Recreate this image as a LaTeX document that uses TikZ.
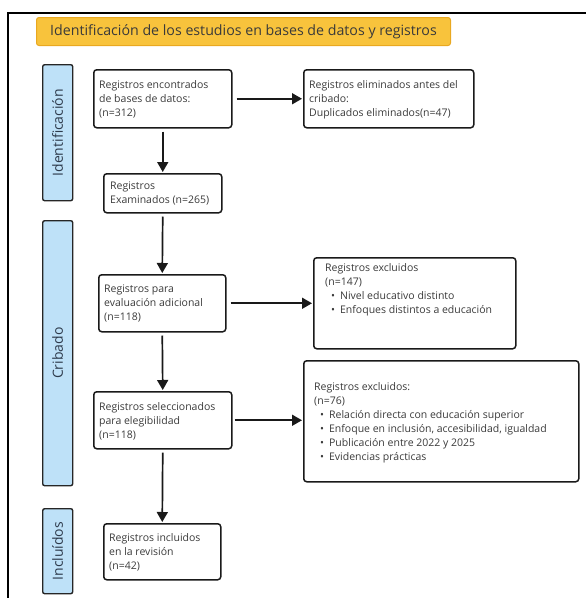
\documentclass[tikz,border=0pt]{standalone}
\usepackage{fontspec}
\setmainfont{Open Sans}
\usetikzlibrary{arrows.meta,calc}
\definecolor{titlefill}{HTML}{F8C33C}
\definecolor{titledraw}{HTML}{E9A820}
\definecolor{barfill}{HTML}{BEE1F8}
\definecolor{bartext}{HTML}{2E3B4C}
\definecolor{txt}{HTML}{3A3A3A}
\tikzset{
  box/.style={draw=black!90, line width=1.5pt, rounded corners=3pt, anchor=north west, inner sep=0pt},
  bar/.style={draw=black!85, line width=1.4pt, fill=barfill, rounded corners=2pt, anchor=north west, inner sep=0pt, minimum width=30pt},
  barlabel/.style={rotate=90, text=bartext, font=\fontsize{14}{16}\selectfont, inner sep=0pt},
  txtnode/.style={anchor=north west, align=left, inner sep=0pt, text=txt, font=\fontsize{10.5}{14}\selectfont},
  arr/.style={line width=1.7pt, -{Triangle[length=10pt,width=11pt]}, black!90},
}
\newcommand{\bul}{\hspace*{6pt}•\hspace{5pt}}
\begin{document}
\begin{tikzpicture}[x=1pt,y=-1pt]
\useasboundingbox (0,0) rectangle (586,598);
% outer frame
\draw[line width=1.5pt] (8,598) -- (8,13) -- (586,13);
% title
\node[draw=titledraw, line width=1pt, fill=titlefill, rounded corners=2.5pt, anchor=north west, minimum width=414pt, minimum height=28pt, inner sep=0pt] (title) at (36,17) {};
\node[text=txt, font=\fontsize{14.2}{16}\selectfont, inner sep=0pt] (titletext) at (title.center) {Identificación de los estudios en bases de datos y registros};
% side bars
\node[bar, minimum height=136pt] (barI) at (42,64) {};
\node[barlabel] (barIt) at (barI.center) {Identificación};
\node[bar, minimum height=265pt] (barC) at (42,220) {};
\node[barlabel] (barCt) at (barC.center) {Cribado};
\node[bar, minimum height=85pt] (barN) at (42,508) {};
\node[barlabel] (barNt) at (barN.center) {Incluídos};
% boxes
\node[box, minimum width=138pt, minimum height=58pt] (b1) at (93,69) {};
\node[txtnode] (t1) at (99,80) {Registros encontrados\\de bases de datos:\\(n=312)};
\node[box, minimum width=170pt, minimum height=58pt] (b2) at (303,69) {};
\node[txtnode] (t2) at (309,80) {Registros eliminados antes del\\cribado:\\Duplicados eliminados(n=47)};
\node[box, minimum width=118pt, minimum height=39pt] (b3) at (103,173) {};
\node[txtnode] (t3) at (110,182) {Registros\\Examinados (n=265)};
\node[box, minimum width=127pt, minimum height=57pt] (b4) at (98,274) {};
\node[txtnode] (t4) at (104,285) {Registros para\\evaluación adicional\\(n=118)};
\node[box, minimum width=202pt, minimum height=91pt] (b5) at (313,257) {};
\node[txtnode] (t5) at (325,263) {Registros excluidos\\(n=147)\\\bul Nivel educativo distinto\\\bul Enfoques distintos a educación};
\node[box, minimum width=138pt, minimum height=57pt] (b6) at (93,391) {};
\node[txtnode] (t6) at (99,402) {Registros seleccionados\\para elegibilidad\\(n=118)};
\node[box, minimum width=275pt, minimum height=121pt] (b7) at (303,360) {};
\node[txtnode] (t7) at (314,382) {Registros excluidos:\\(n=76)\\\bul Relación directa con educación superior\\\bul Enfoque en inclusión, accesibilidad, igualdad\\\bul Publicación entre 2022 y 2025\\\bul Evidencias prácticas};
\node[box, minimum width=117pt, minimum height=56pt] (b8) at (103,523) {};
\node[txtnode] (t8) at (109,533) {Registros incluidos\\en la revisión\\(n=42)};
% arrows
\draw[arr, shorten <=3pt, shorten >=1pt] (b1.south) -- (b3.north);
\draw[arr, shorten <=3pt, shorten >=1pt] (b3.south) -- (b4.north);
\draw[arr, shorten <=3pt, shorten >=1pt] (b4.south) -- (b6.north);
\draw[arr, shorten <=3pt, shorten >=1pt] (b6.south) -- (b8.north);
\draw[arr, shorten <=4pt, shorten >=1pt] (b1.east) -- (b2.west);
\draw[arr, shorten <=4pt, shorten >=1pt] (b4.east) -- (b5.west);
\draw[arr, shorten <=2pt, shorten >=1pt] (b6.east) -- (b6.east -| b7.west);
\end{tikzpicture}
\end{document}
